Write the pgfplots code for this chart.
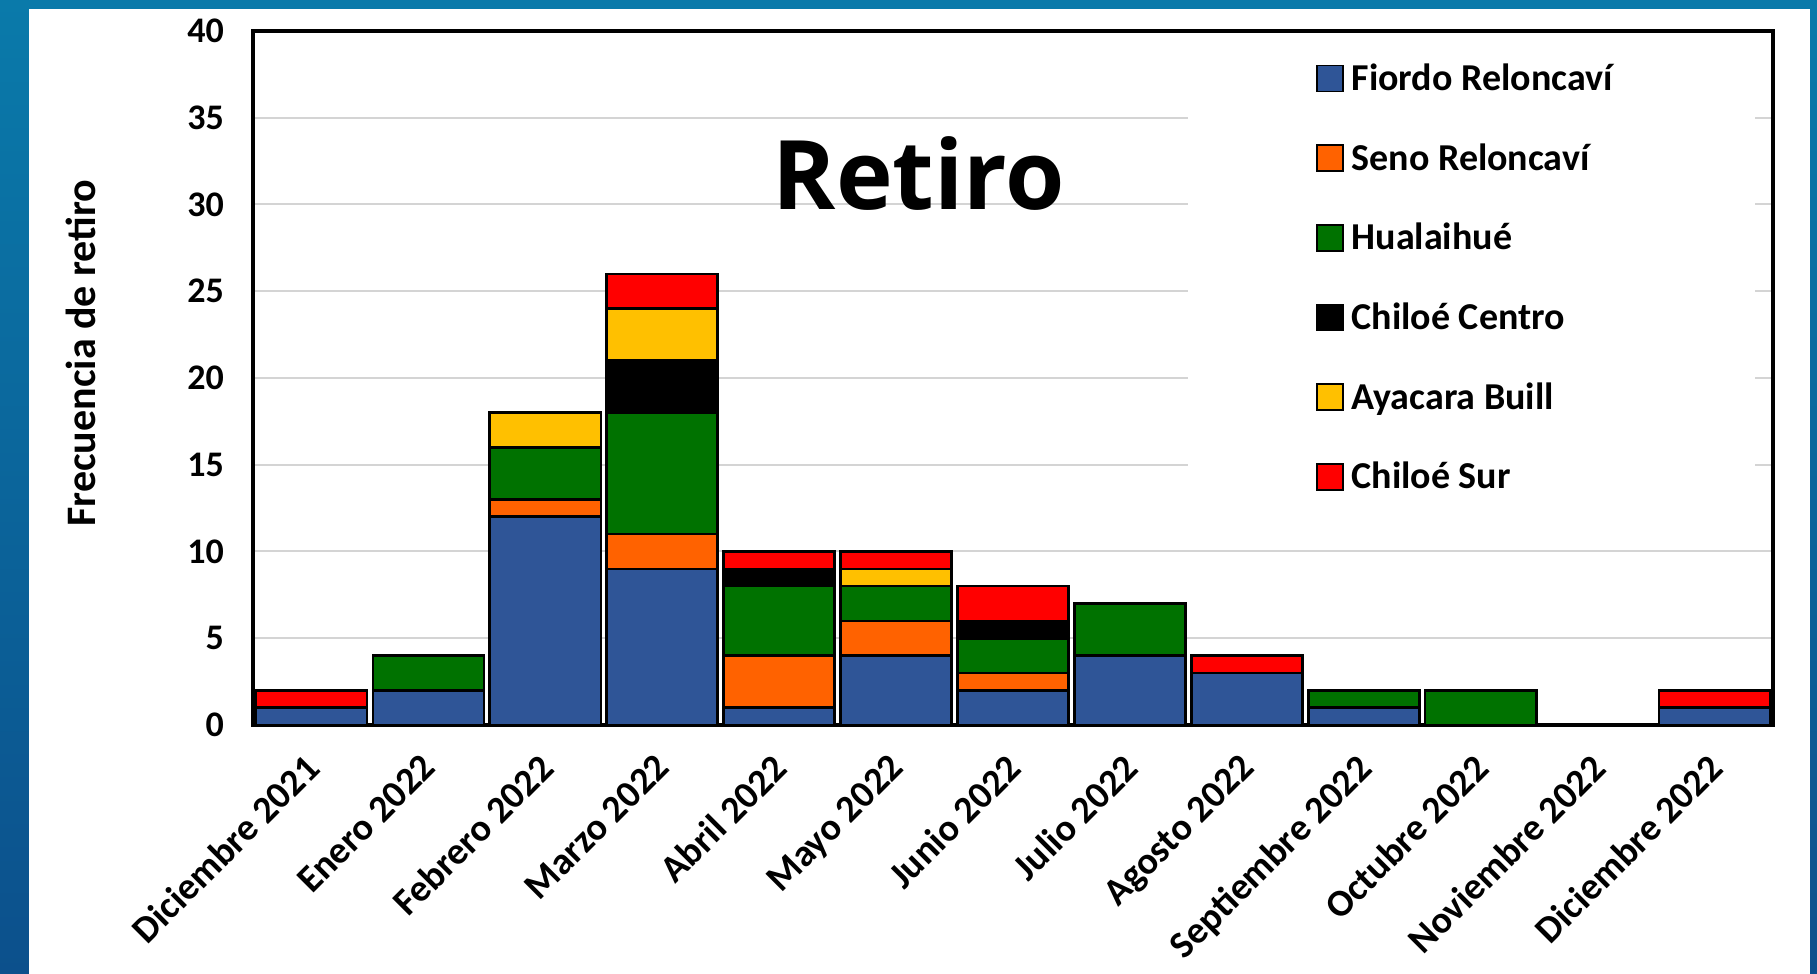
\documentclass[border=0pt]{standalone}
\usepackage{fontspec}
\setmainfont{Carlito}
\newfontfamily\titlefont{Open Sans}
\usepackage{pgfplots}
\pgfplotsset{compat=1.18}

\definecolor{cFiordo}{RGB}{47,85,151}
\definecolor{cSeno}{RGB}{255,98,0}
\definecolor{cHuala}{RGB}{0,114,0}
\definecolor{cCentro}{RGB}{0,0,0}
\definecolor{cAyacara}{RGB}{255,192,0}
\definecolor{cSur}{RGB}{255,0,0}
\definecolor{bgtop}{RGB}{10,122,170}
\definecolor{bgbot}{RGB}{12,80,140}
\definecolor{gridgray}{RGB}{212,212,212}

\begin{document}
\begin{tikzpicture}
% background panel
\shade[top color=bgtop, bottom color=bgbot] (0,0) rectangle (908.5pt,487pt);
\fill[white] (14.5pt,0) rectangle (905pt,482.5pt);
\begin{axis}[
    at={(126.5pt,124.5pt)}, anchor=south west,
    scale only axis, width=760pt, height=347pt,
    ybar stacked, bar width=0.95,
    xmin=-0.5, xmax=12.5, ymin=0, ymax=40,
    ytick={0,5,...,40},
    xtick={0,...,12},
    xticklabels={Diciembre 2021, Enero 2022, Febrero 2022, Marzo 2022,
        Abril 2022, Mayo 2022, Junio 2022, Julio 2022, Agosto 2022,
        Septiembre 2022, Octubre 2022, Noviembre 2022, Diciembre 2022},
    major tick length=0pt,
    ymajorgrids, grid style={draw=gridgray, line width=1pt},
    axis line style={line width=2pt},
    /pgf/number format/assume math mode=true,
    y tick label style={font=\bfseries\fontsize{18}{18}\selectfont, xshift=-11pt},
    x tick label style={font=\bfseries\fontsize{19}{19}\selectfont, rotate=45,
        anchor=north east, xshift=-9pt, yshift=-3pt},
    ylabel={Frecuencia de retiro},
    ylabel style={at={(axis description cs:-0.1132,0.536)}, anchor=center,
        font=\bfseries\fontsize{21}{21}\selectfont},
    every axis plot/.append style={draw=black, line width=1.3pt},
    legend image code/.code={\draw[#1, line width=0.9pt] (0pt,-6.5pt) rectangle (13pt,6.5pt);},
    legend cell align=left,
    legend style={at={(0.695,0.965)}, anchor=north west, draw=none, fill=none,
        font=\bfseries\fontsize{19}{19}\selectfont, row sep=21pt,
        /tikz/every odd column/.append style={column sep=2pt}},
]
% legend area hides the grid lines
\fill[white] (rel axis cs:0.615,0.32) rectangle (rel axis cs:0.988,0.995);

\addplot[fill=cFiordo] coordinates {(0,1) (1,2) (2,12) (3,9) (4,1) (5,4) (6,2) (7,4) (8,3) (9,1) (10,0) (11,0) (12,1)};
\addplot[fill=cSeno] coordinates {(0,0) (1,0) (2,1) (3,2) (4,3) (5,2) (6,1) (7,0) (8,0) (9,0) (10,0) (11,0) (12,0)};
\addplot[fill=cHuala] coordinates {(0,0) (1,2) (2,3) (3,7) (4,4) (5,2) (6,2) (7,3) (8,0) (9,1) (10,2) (11,0) (12,0)};
\addplot[fill=cCentro] coordinates {(0,0) (1,0) (2,0) (3,3) (4,1) (5,0) (6,1) (7,0) (8,0) (9,0) (10,0) (11,0) (12,0)};
\addplot[fill=cAyacara] coordinates {(0,0) (1,0) (2,2) (3,3) (4,0) (5,1) (6,0) (7,0) (8,0) (9,0) (10,0) (11,0) (12,0)};
\addplot[fill=cSur] coordinates {(0,1) (1,0) (2,0) (3,2) (4,1) (5,1) (6,2) (7,0) (8,1) (9,0) (10,0) (11,0) (12,1)};
\legend{Fiordo Reloncaví, Seno Reloncaví, Hualaihué, Chiloé Centro, Ayacara Buill, Chiloé Sur}

\node[font=\titlefont\bfseries\fontsize{48}{48}\selectfont] at (axis description cs:0.438,0.794) {Retiro};
\end{axis}
\pgfresetboundingbox
\useasboundingbox (0,0) rectangle (908.5pt,487pt);
\end{tikzpicture}
\end{document}
